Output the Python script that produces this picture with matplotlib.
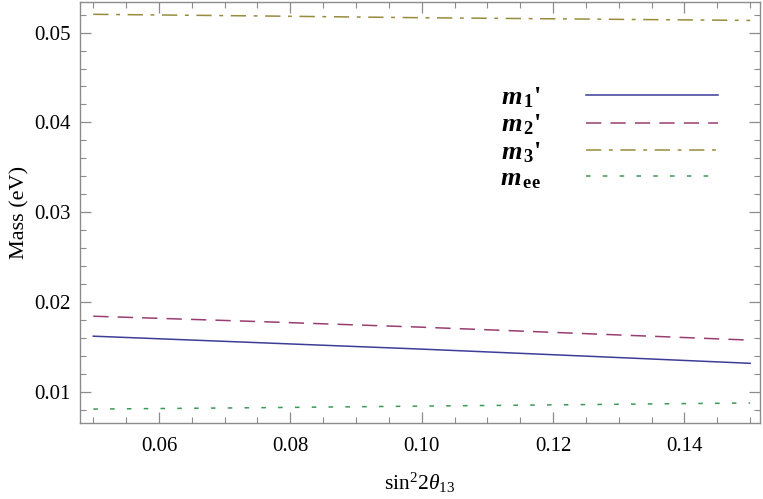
import numpy as np
import matplotlib
matplotlib.use("Agg")
import matplotlib.pyplot as plt
from matplotlib.ticker import MultipleLocator, FormatStrFormatter

plt.rcParams['font.family'] = ['Liberation Serif', 'DejaVu Serif']
plt.rcParams['mathtext.fontset'] = 'custom'
plt.rcParams['mathtext.rm'] = 'Liberation Serif'
plt.rcParams['mathtext.it'] = 'Liberation Serif:italic'
plt.rcParams['mathtext.bf'] = 'Liberation Serif:bold'
plt.rcParams['mathtext.bfit'] = 'Liberation Serif:italic:bold'

# values
s2t13 = [0.05, 0.075, 0.10, 0.125, 0.15]
m1 = [0.01622, 0.01550, 0.01478, 0.01400, 0.01320]
m2 = [0.01844, 0.01785, 0.01722, 0.01650, 0.01578]
m3 = [0.05203, 0.05185, 0.05165, 0.05150, 0.05135]
mee = [0.00811, 0.00826, 0.00844, 0.00861, 0.00879]

labels = [r"$\mathbfit{m}_{\,\mathbf{1}}$'", r"$\mathbfit{m}_{\,\mathbf{2}}$'",
          r"$\mathbfit{m}_{\,\mathbf{3}}$'", r"$\mathbfit{m}_{\,\mathbf{ee}}$"]
colors = [(0.24, 0.24, 0.6), (0.6, 0.24, 0.4428), (0.6, 0.547, 0.24), (0.24, 0.6, 0.337)]
styles = ['-', (0, (10, 6)), (0, (10, 5, 2.5, 5)), (0, (3, 8))]

fig = plt.figure(figsize=(7.63, 4.99), dpi=100)
ax = fig.add_axes([80 / 763, 76 / 499, 680 / 763, 421 / 499])

for y, lab, c, ls in zip([m1, m2, m3, mee], labels, colors, styles):
    ax.plot(s2t13, y, color=c, ls=ls, lw=1.1, label=lab)

ax.set_xlim(0.04798, 0.1515)
ax.set_ylim(0.00656, 0.0534)

ax.xaxis.set_major_locator(MultipleLocator(0.02))
ax.xaxis.set_minor_locator(MultipleLocator(0.005))
ax.yaxis.set_major_locator(MultipleLocator(0.01))
ax.yaxis.set_minor_locator(MultipleLocator(0.002))
ax.xaxis.set_major_formatter(FormatStrFormatter('%.2f'))
ax.yaxis.set_major_formatter(FormatStrFormatter('%.2f'))

frame_col = '#8c8c8c'
for sp in ax.spines.values():
    sp.set_color(frame_col)
    sp.set_linewidth(1.0)
ax.tick_params(which='both', direction='in', top=True, right=True, color=frame_col,
               labelsize=15)
ax.tick_params(axis='x', which='both', pad=10)
ax.tick_params(axis='y', which='both', pad=7)
ax.tick_params(which='major', length=8, width=0.9)
ax.tick_params(which='minor', length=4.5, width=0.8)

ax.set_xlabel(r"$\mathrm{sin}^{2}2\theta_{13}$", fontsize=15.5, labelpad=11)
ax.set_ylabel("Mass (eV)", fontsize=16, labelpad=3)

ax.legend(loc='upper left', bbox_to_anchor=(0.583, 0.858), frameon=False,
          markerfirst=False, handlelength=5.0, handletextpad=1.7,
          labelspacing=0.1, prop={'size': 19, 'weight': 'bold'})

fig.savefig("out.png", dpi=100)
